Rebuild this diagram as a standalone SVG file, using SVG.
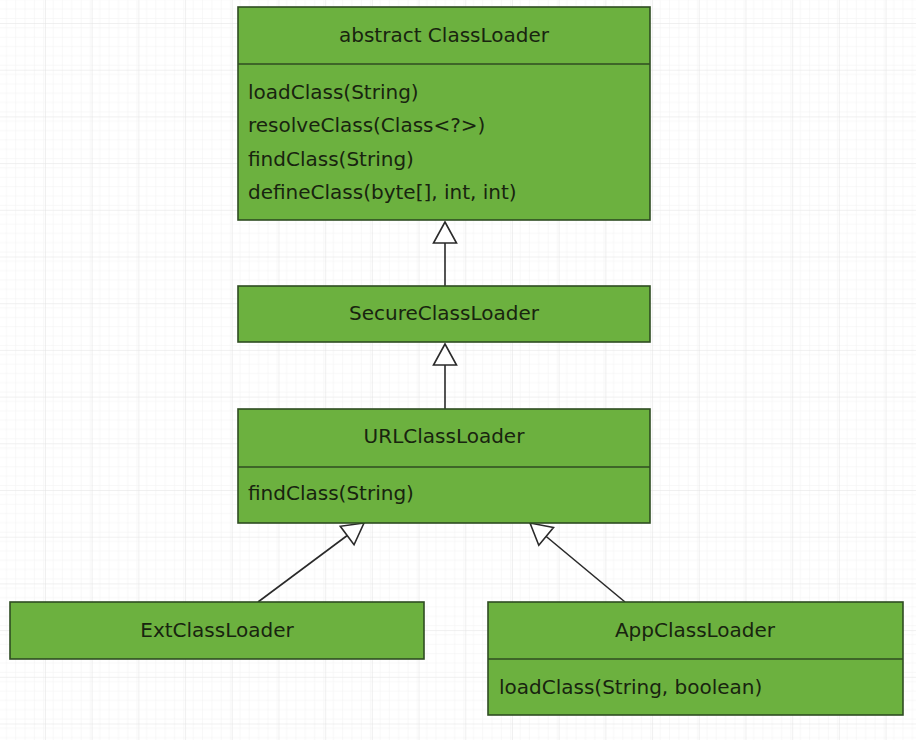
<svg xmlns="http://www.w3.org/2000/svg" width="916" height="740" viewBox="0 0 916 740">
<defs>
<pattern id="minor" width="9.34" height="9.34" patternUnits="userSpaceOnUse" x="-1.7" y="23">
<path d="M0,0 H9.34 M0,0 V9.34" fill="none" stroke="#f1f1f1" stroke-width="1"/>
</pattern>
<pattern id="major" width="46.7" height="46.7" patternUnits="userSpaceOnUse" x="-1.7" y="23">
<rect width="46.7" height="46.7" fill="url(#minor)"/>
<path d="M0,0 H46.7 M0,0 V46.7" fill="none" stroke="#e2e2e2" stroke-width="1"/>
</pattern>
<marker id="tri" viewBox="-23 -14 25 28" refX="0" refY="0" markerWidth="25" markerHeight="28" markerUnits="userSpaceOnUse" orient="auto">
<path d="M0,0 L-21,-11.5 L-21,11.5 Z" fill="#ffffff" stroke="#2a2a2a" stroke-width="1.6" stroke-linejoin="miter"/>
</marker>
</defs>
<style>
.box{fill:#6cb13f;stroke:#2f4d22;stroke-width:1.6}
.div{stroke:#2f4d22;stroke-width:1.6}
.t{font-family:"DejaVu Sans","Liberation Sans",sans-serif;font-size:20px;fill:#18240f}
.c{text-anchor:middle}
.edge{stroke:#2a2a2a;stroke-width:1.6;fill:none;marker-end:url(#tri)}
</style>
<rect width="916" height="740" fill="#ffffff"/>
<rect width="916" height="740" fill="url(#major)"/>

<g id="connectors">
<line class="edge" x1="445" y1="286" x2="445" y2="222"/>
<line class="edge" x1="445" y1="409" x2="445" y2="344"/>
<line class="edge" x1="258" y1="602" x2="364" y2="523"/>
<line class="edge" x1="625" y1="602" x2="530" y2="523"/>
</g>

<g id="ClassLoader">
<rect class="box" x="238" y="7" width="412" height="213"/>
<line class="div" x1="238" y1="64" x2="650" y2="64"/>
<text class="t c" x="444" y="42">abstract ClassLoader</text>
<text class="t" x="248" y="99">loadClass(String)</text>
<text class="t" x="248" y="132">resolveClass(Class&lt;?&gt;)</text>
<text class="t" x="248" y="166">findClass(String)</text>
<text class="t" x="248" y="199">defineClass(byte[], int, int)</text>
</g>

<g id="SecureClassLoader">
<rect class="box" x="238" y="286" width="412" height="56"/>
<text class="t c" x="444" y="320">SecureClassLoader</text>
</g>

<g id="URLClassLoader">
<rect class="box" x="238" y="409" width="412" height="114"/>
<line class="div" x1="238" y1="467" x2="650" y2="467"/>
<text class="t c" x="444" y="443">URLClassLoader</text>
<text class="t" x="248" y="500">findClass(String)</text>
</g>

<g id="ExtClassLoader">
<rect class="box" x="10" y="602" width="414" height="57"/>
<text class="t c" x="217" y="637">ExtClassLoader</text>
</g>

<g id="AppClassLoader">
<rect class="box" x="488" y="602" width="415" height="113"/>
<line class="div" x1="488" y1="659" x2="903" y2="659"/>
<text class="t c" x="695" y="637">AppClassLoader</text>
<text class="t" x="499" y="694">loadClass(String, boolean)</text>
</g>
</svg>
